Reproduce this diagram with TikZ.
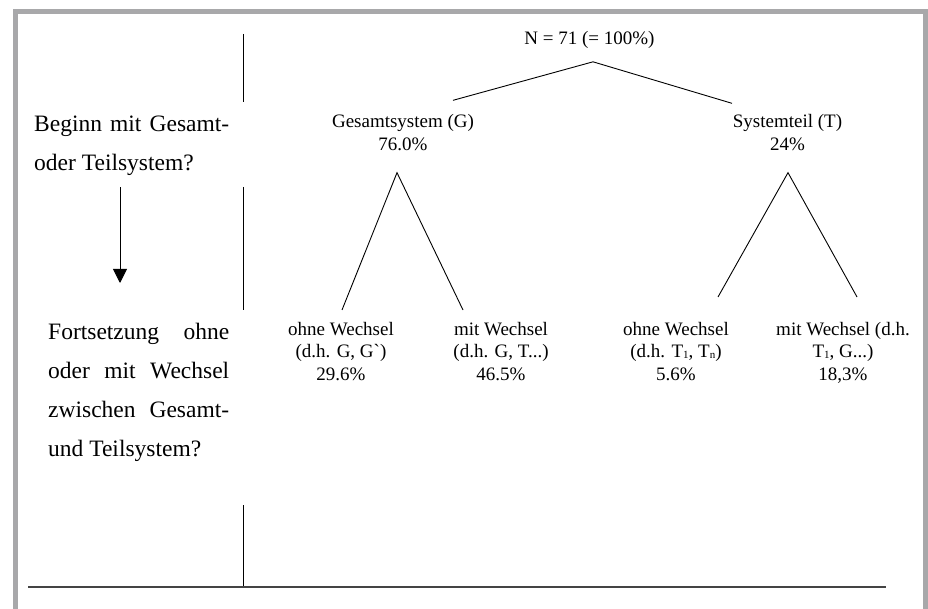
\documentclass[tikz,border=0pt]{standalone}
\usepackage{fontspec}
\setmainfont{Liberation Serif}
\usetikzlibrary{arrows.meta}
\definecolor{framegray}{HTML}{A8A8AA}
\definecolor{rulegray}{HTML}{444444}
\tikzstyle{question} = [inner sep=0pt, align=left, font=\fontsize{23.5}{39}\selectfont]
\tikzstyle{share} = [inner sep=0pt, align=center, font=\fontsize{19}{22.5}\selectfont]
\tikzstyle{branch} = [draw, line width=0.9pt]
\tikzstyle{flow} = [draw, line width=0.9pt, -{Triangle[width=14pt,length=14pt]}]
\tikzstyle{divider} = [draw, line width=0.9pt]
\tikzstyle{frame} = [draw=framegray, line width=5pt]
\newcommand{\jline}[2]{\makebox[#1][s]{#2}}
\newcommand{\lowidx}[1]{\raisebox{-0.5pt}{\fontsize{11}{11}\selectfont #1}}

\begin{document}
\begin{tikzpicture}[x=1pt, y=-1pt]
            \useasboundingbox (0,0) rectangle (928,609);
            \clip (0,0) rectangle (928,609);
            % Frame and rules
            \draw[frame] (15,12) rectangle (925,640);
            \path[divider] (243,34) -- (243,102);
            \path[divider] (243,187) -- (243,310);
            \path[divider] (243,505) -- (243,587);
            \path[divider, draw=rulegray, line width=1.4pt] (28,587) -- (886,587);

            % Left column
            \node (q1) [question, anchor=north west] at (34,116) {\jline{195pt}{Beginn mit Gesamt-}\\oder Teilsystem?};
            \node (q2) [question, anchor=north west] at (48,323) {\jline{181pt}{Fortsetzung ohne}\\\jline{181pt}{oder mit Wechsel}\\\jline{181pt}{zwischen Gesamt-}\\und Teilsystem?};

            % Tree
            \node (root) [share] at (589.5,40) {N = 71 (= 100\%)};
            \node (ges) [share] at (403,132.5) {Gesamtsystem (G)\\76.0\%};
            \node (sys) [share] at (787.5,132.5) {Systemteil (T)\\24\%};
            \node (ges1) [share, anchor=north] at (341,322) {ohne Wechsel\\(d.h. G, G\textasciigrave)\\29.6\%};
            \node (ges2) [share, anchor=north] at (501,322) {mit Wechsel\\(d.h. G, T...)\\46.5\%};
            \node (sys1) [share, anchor=north] at (676,322) {ohne Wechsel\\(d.h. T\lowidx{1}, T\lowidx{n})\\5.6\%};
            \node (sys2) [share, anchor=north] at (843,322) {mit Wechsel (d.h.\\T\lowidx{1}, G...)\\18,3\%};

            % Draw lines
            \path [flow] ([xshift=86pt,yshift=-11pt]q1.south west) -- ([xshift=72pt,yshift=40pt]q2.north west);
            \path [branch] ([xshift=50pt,yshift=14pt]ges.north) -- ([xshift=3.5pt,yshift=-13pt]root.south) -- ([xshift=-55.5pt,yshift=11pt]sys.north);
            \path [branch] ([xshift=1pt,yshift=12pt]ges1.north) -- ([xshift=-6pt,yshift=-22pt]ges.south) -- ([xshift=-38pt,yshift=12pt]ges2.north);
            \path [branch] ([xshift=42pt,yshift=25pt]sys1.north) -- ([xshift=0.5pt,yshift=-22pt]sys.south) -- ([xshift=14pt,yshift=25pt]sys2.north);
        \end{tikzpicture}
\end{document}
